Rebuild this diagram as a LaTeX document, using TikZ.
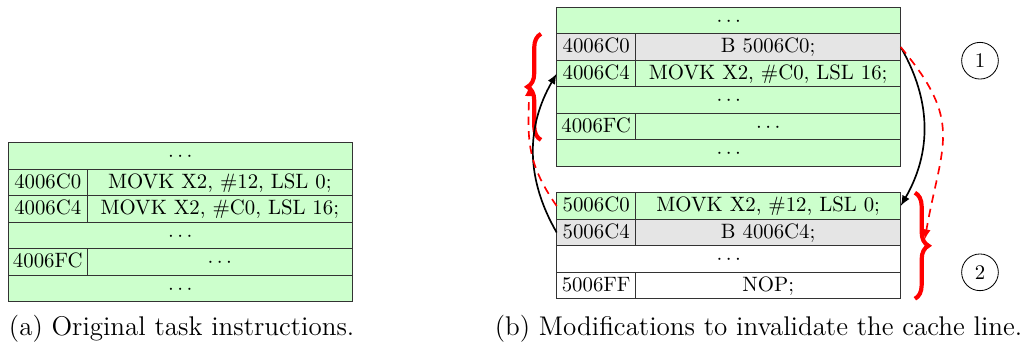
\documentclass[tikz,border=0pt]{standalone}
\usetikzlibrary{positioning,arrows.meta,decorations.pathreplacing}
\definecolor{linegreen}{RGB}{204,255,204}
\definecolor{linegray}{RGB}{229,229,229}
\tikzset{
  cell/.style={draw=black!80, inner sep=0pt, outer sep=0pt, minimum height=0.448cm, text height=1.5ex, text depth=.25ex},
  addr/.style={cell, minimum width=1.335cm},
  instr/.style={cell, minimum width=4.479cm},
  wide/.style={cell, minimum width=5.814cm},
  jump/.style={thick, -{Latex[length=5pt,width=4pt]}},
  flush/.style={jump, red, dash pattern=on 4pt off 3pt},
  cachebrace/.style={red, line width=2pt, decorate, decoration={brace, amplitude=6.5pt}},
  stage/.style={circle, draw, minimum size=0.62cm, inner sep=0pt},
  caption/.style={anchor=base, font=\fontsize{13}{15}\selectfont},
}
\begin{document}
\begin{tikzpicture}
\useasboundingbox (0,0) rectangle (17.289,5.814);

% (a) original code
\node[wide, fill=linegreen, anchor=north west] (a0) at (0.140,3.402) {$\cdots$};
\node[addr, fill=linegreen, below right=0pt of a0.south west] (a1) {4006C0};
\node[instr, fill=linegreen, right=0pt of a1] (a1i) {MOVK X2, \#12, LSL 0;};
\node[addr, fill=linegreen, below right=0pt of a1.south west] (a2) {4006C4};
\node[instr, fill=linegreen, right=0pt of a2] (a2i) {MOVK X2, \#C0, LSL 16;};
\node[wide, fill=linegreen, below right=0pt of a2.south west] (a3) {$\cdots$};
\node[addr, fill=linegreen, below right=0pt of a3.south west] (a4) {4006FC};
\node[instr, fill=linegreen, right=0pt of a4] (a4i) {$\cdots$};
\node[wide, fill=linegreen, below right=0pt of a4.south west] (a5) {$\cdots$};
\node[caption] (capa) at (3.07,0.14) {(a) Original task instructions.};

% (b) patched code
\node[wide, fill=linegreen, anchor=north west] (b0) at (9.408,5.690) {$\cdots$};
\node[addr, fill=linegray, below right=0pt of b0.south west] (b1) {4006C0};
\node[instr, fill=linegray, right=0pt of b1] (b1i) {B 5006C0;};
\node[addr, fill=linegreen, below right=0pt of b1.south west] (b2) {4006C4};
\node[instr, fill=linegreen, right=0pt of b2] (b2i) {MOVK X2, \#C0, LSL 16;};
\node[wide, fill=linegreen, below right=0pt of b2.south west] (b3) {$\cdots$};
\node[addr, fill=linegreen, below right=0pt of b3.south west] (b4) {4006FC};
\node[instr, fill=linegreen, right=0pt of b4] (b4i) {$\cdots$};
\node[wide, fill=linegreen, below right=0pt of b4.south west] (b5) {$\cdots$};

% trampoline
\node[addr, fill=linegreen, anchor=north west] (c0) at (9.408,2.557) {5006C0};
\node[instr, fill=linegreen, right=0pt of c0] (c0i) {MOVK X2, \#12, LSL 0;};
\node[addr, fill=linegray, below right=0pt of c0.south west] (c1) {5006C4};
\node[instr, fill=linegray, right=0pt of c1] (c1i) {B 4006C4;};
\node[wide, below right=0pt of c1.south west] (c2) {$\cdots$};
\node[addr, below right=0pt of c2.south west] (c3) {5006FF};
\node[instr, right=0pt of c3] (c3i) {NOP;};

% cache lines
\draw[cachebrace] ([xshift=-0.265cm]b4.south west) -- ([xshift=-0.265cm]b1.north west);
\draw[cachebrace] ([xshift=0.24cm]c0i.north east) -- ([xshift=0.24cm]c3i.south east);
\coordinate (tipA) at ([xshift=-0.46cm, yshift=0.02cm]b2.south west);
\coordinate (tipB) at ([xshift=0.405cm, yshift=0.1cm]c1i.south east);

\draw[jump] (b1i.east) to[out=-60, in=60] (c0i.east);
\draw[flush] (b1i.east) to[out=-50, in=80, looseness=1.3] (tipB);
\draw[jump] (c1.west) to[out=120, in=-120] (b2.west);
\draw[flush] (c0.west) to[out=125, in=-92, looseness=1.1] (tipA);

\node[stage] (s1) at (16.562,4.788) {1};
\node[stage] (s2) at (16.562,1.212) {2};
\node[caption] (capb) at (12.82,0.14) {(b) Modifications to invalidate the cache line.};
\end{tikzpicture}
\end{document}
